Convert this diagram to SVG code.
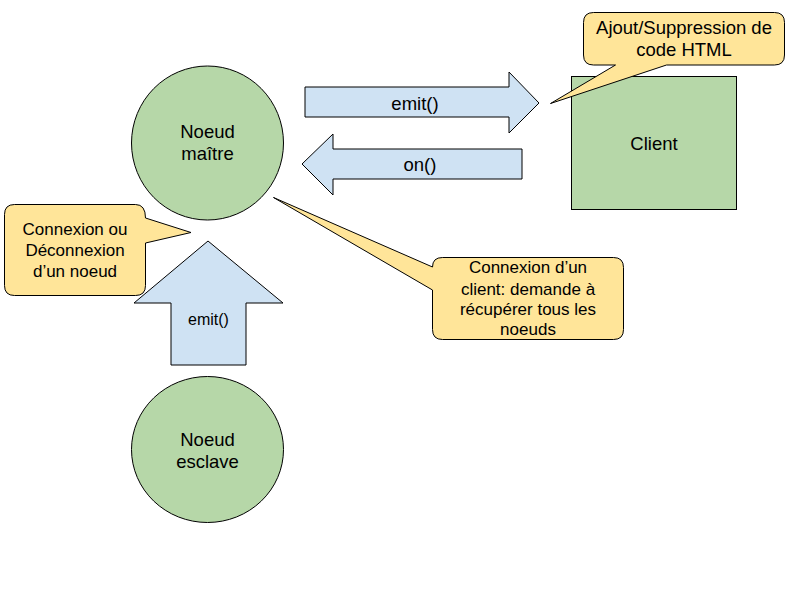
<svg xmlns="http://www.w3.org/2000/svg" width="800" height="600" viewBox="0 0 800 600">
<style>
.g{fill:#b6d7a8;stroke:#000;stroke-width:1}
.b{fill:#cfe2f3;stroke:#000;stroke-width:1}
.y{fill:#ffe599;stroke:#000;stroke-width:1}
text{font-family:"Liberation Sans",Arial,sans-serif;fill:#000;text-anchor:middle}
.n{font-size:18.5px}
.a{font-size:18.5px}
.c{font-size:17px}
.s{font-size:16px}
</style>
<rect width="800" height="600" fill="#fff"/>
<g id="connectors">
<g id="arrow-emit-right">
<polygon class="b" points="305,87 509,87 509,72 539,103 509,133 509,117 305,117"/>
<text class="n" x="415" y="110">emit()</text>
</g>
<g id="arrow-on-left">
<polygon class="b" points="302,164 333,134 333,149 522,149 522,179 333,179 333,195"/>
<text class="n" x="420" y="171">on()</text>
</g>
<g id="arrow-emit-up">
<polygon class="b" points="208,241 283,303 246,303 246,365 171,365 171,303 134,303"/>
<text class="s" x="208.5" y="325">emit()</text>
</g>
</g>
<g id="noeud-maitre">
<ellipse class="g" cx="207.5" cy="143" rx="76" ry="77"/>
<text class="n" x="207.5" y="138">Noeud</text>
<text class="n" x="207.5" y="160">maître</text>
</g>
<g id="client">
<rect class="g" x="571.5" y="76.5" width="165" height="133"/>
<text class="n" x="654" y="150">Client</text>
</g>
<g id="noeud-esclave">
<ellipse class="g" cx="207.5" cy="449.5" rx="76" ry="73"/>
<text class="n" x="207.5" y="446">Noeud</text>
<text class="n" x="207.5" y="468">esclave</text>
</g>
<g id="callout-html">
<path class="y" d="M593.5,12.5 H774.5 Q784.5,12.5 784.5,22.5 V55 Q784.5,65 774.5,65 H666.5 L550.5,103.5 L615.5,65 H593.5 Q583.5,65 583.5,55 V22.5 Q583.5,12.5 593.5,12.5 Z"/>
<text class="a" x="684" y="34">Ajout/Suppression de</text>
<text class="a" x="684" y="56">code HTML</text>
</g>
<g id="callout-client">
<path class="y" d="M442.5,257.5 H613.5 Q623.5,257.5 623.5,267.5 V329.5 Q623.5,339.5 613.5,339.5 H442.5 Q432.5,339.5 432.5,329.5 V290 L273.5,197.5 L432.5,267 Q432.5,257.5 442.5,257.5 Z"/>
<text class="c" x="528" y="273">Connexion d’un</text>
<text class="c" x="528" y="295">client: demande à</text>
<text class="c" x="528" y="315">récupérer tous les</text>
<text class="c" x="528" y="335">noeuds</text>
</g>
<g id="callout-noeud">
<path class="y" d="M14.5,204.5 H135.5 Q145.5,204.5 145.5,218 L191,232.5 L145.5,243 V285.5 Q145.5,295.5 135.5,295.5 H14.5 Q4.5,295.5 4.5,285.5 V214.5 Q4.5,204.5 14.5,204.5 Z"/>
<text class="c" x="75" y="235">Connexion ou</text>
<text class="c" x="75" y="256">Déconnexion</text>
<text class="c" x="75" y="277">d’un noeud</text>
</g>
</svg>
